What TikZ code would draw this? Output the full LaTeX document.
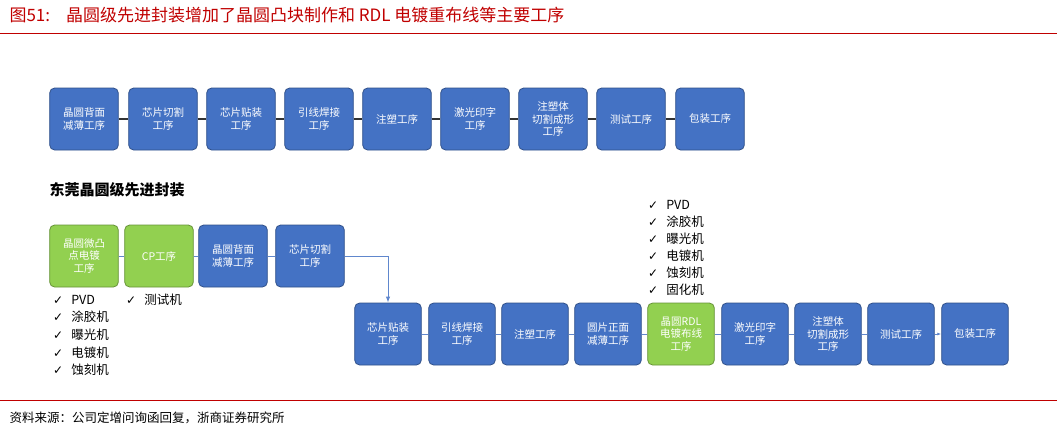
\documentclass[tikz,border=0pt]{standalone}
\usepackage{fontspec}
\setmainfont{Noto Sans CJK SC}
\newfontfamily\symfont{DejaVu Sans}
\usetikzlibrary{arrows.meta}
\definecolor{boxblue}{HTML}{4472C4}
\definecolor{boxgreen}{HTML}{92D050}
\definecolor{titlered}{HTML}{C00000}
\tikzset{
	bluebox/.style={draw=boxblue!70!black, fill=boxblue, rounded corners=5pt, minimum width=66pt, minimum height=62pt, text width=62pt, align=center, text=white, font=\fontsize{10.5}{12.5}\selectfont, line width=0.8pt},
	greenbox/.style={bluebox, draw=boxgreen!70!black, fill=boxgreen},
	smallbox/.style={minimum width=64pt, text width=60pt},
	link/.style={line width=1.2pt, draw=black!80},
	bluelink/.style={line width=1pt, draw=boxblue!85!white},
	checkitem/.style={anchor=west, font=\fontsize{12.5}{14}\selectfont, inner sep=0pt}
}
\newcommand{\chk}{{\symfont\fontsize{12}{12}\selectfont ✓}\hspace{8pt}}
\begin{document}
\begin{tikzpicture}[x=1pt, y=-1pt]
		\useasboundingbox (0,0) rectangle (1057,432);
		
		% Header and rules
		\node[anchor=west, text=titlered, font=\fontsize{17}{19}\selectfont] (title) at (6,15) {图51:\hspace{16pt}晶圆级先进封装增加了晶圆凸块制作和 RDL 电镀重布线等主要工序};
		\draw[titlered, line width=0.8pt] (0,33) -- (1057,33);
		\draw[titlered, line width=0.8pt] (0,400) -- (1057,400);
		\node[anchor=west, font=\fontsize{12.5}{14}\selectfont] (source) at (6,418) {资料来源：公司定增问询函回复，浙商证券研究所};
		
		% Top row
		\node[bluebox] (a1) at (84,119) {晶圆背面\\减薄工序};
		\node[bluebox] (a2) at (163,119) {芯片切割\\工序};
		\node[bluebox] (a3) at (241,119) {芯片贴装\\工序};
		\node[bluebox] (a4) at (319,119) {引线焊接\\工序};
		\node[bluebox] (a5) at (397,119) {注塑工序};
		\node[bluebox] (a6) at (475,119) {激光印字\\工序};
		\node[bluebox] (a7) at (553,119) {注塑体\\切割成形\\工序};
		\node[bluebox] (a8) at (631,119) {测试工序};
		\node[bluebox] (a9) at (710,119) {包装工序};
		\foreach \i/\j in {a1/a2,a2/a3,a3/a4,a4/a5,a5/a6,a6/a7,a7/a8,a8/a9}
			\draw[link] (\i) -- (\j);
		
		% Section title
		\node[anchor=west, font=\bfseries\fontsize{15}{17}\selectfont] (dg) at (46,190) {东莞晶圆级先进封装};
		
		% Second row
		\node[greenbox] (b1) at (84,256) {晶圆微凸\\点电镀\\工序};
		\node[greenbox] (b2) at (159,256) {CP工序};
		\node[bluebox] (b3) at (233,256) {晶圆背面\\减薄工序};
		\node[bluebox] (b4) at (310,256) {芯片切割\\工序};
		\draw[bluelink] (b1) -- (b2);
		\draw[bluelink] (b2) -- (b3);
		\draw[bluelink] (b3) -- (b4);
		
		% Third row
		\node[bluebox, smallbox] (c1) at (388,334) {芯片贴装\\工序};
		\node[bluebox, smallbox] (c2) at (462,334) {引线焊接\\工序};
		\node[bluebox, smallbox] (c3) at (535,334) {注塑工序};
		\node[bluebox, smallbox] (c4) at (608,334) {圆片正面\\减薄工序};
		\node[greenbox, smallbox] (c5) at (681,334) {晶圆RDL\\电镀布线\\工序};
		\node[bluebox, smallbox] (c6) at (755,334) {激光印字\\工序};
		\node[bluebox, smallbox] (c7) at (828,334) {注塑体\\切割成形\\工序};
		\node[bluebox, smallbox] (c8) at (901,334) {测试工序};
		\node[bluebox, smallbox] (c9) at (975,334) {包装工序};
		\foreach \i/\j in {c1/c2,c2/c3,c3/c4,c4/c5,c5/c6,c6/c7,c7/c8}
			\draw[bluelink] (\i) -- (\j);
		\draw[bluelink, -{Latex[length=4pt]}] (c8) -- (c9);
		
		% Link from second row down to third row
		\draw[bluelink, -{Latex[length=6pt]}] (b4.east) -| (c1.north);
		
		% Equipment lists
		\node[checkitem] (e1) at (53,300) {\chk PVD};
		\node[checkitem] (e2) at (53,317) {\chk 涂胶机};
		\node[checkitem] (e3) at (53,335) {\chk 曝光机};
		\node[checkitem] (e4) at (53,353) {\chk 电镀机};
		\node[checkitem] (e5) at (53,370) {\chk 蚀刻机};
		\node[checkitem] (f1) at (126,300) {\chk 测试机};
		\node[checkitem] (g1) at (648,205) {\chk PVD};
		\node[checkitem] (g2) at (648,222) {\chk 涂胶机};
		\node[checkitem] (g3) at (648,239) {\chk 曝光机};
		\node[checkitem] (g4) at (648,256) {\chk 电镀机};
		\node[checkitem] (g5) at (648,273) {\chk 蚀刻机};
		\node[checkitem] (g6) at (648,290) {\chk 固化机};
\end{tikzpicture}
\end{document}
